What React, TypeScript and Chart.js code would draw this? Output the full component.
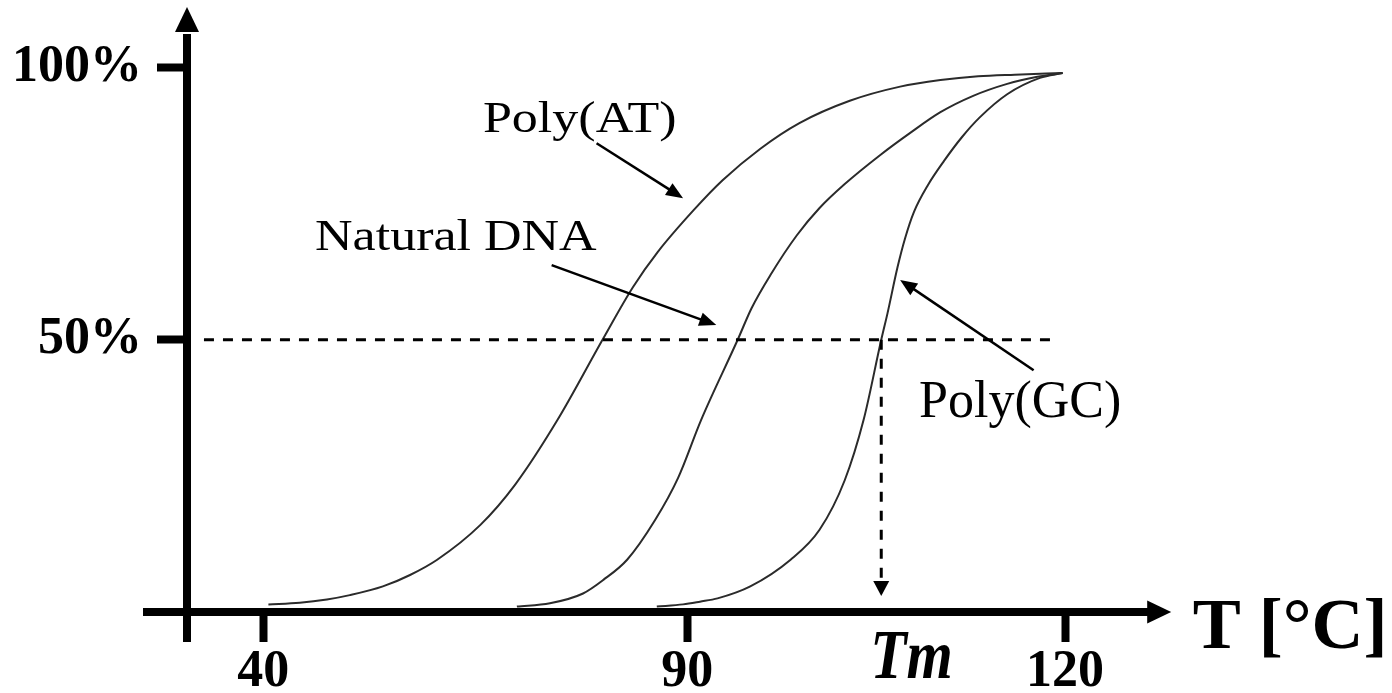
import React, { useEffect, useRef } from 'react';
import { Chart, registerables } from 'chart.js';

Chart.register(...registerables);

// Melting curves: share of denatured DNA (%) against temperature (°C)
const polyATTemp = [40.6, 44.3, 47.5, 50.2, 54.1, 57.3, 60.5, 65.6, 69.7, 74.7, 80.0, 83.6, 86.5, 90.5, 92.8, 95.8, 98.9, 102.9, 106.9, 110.1, 113.1, 116.0, 119.8];
const polyATPct = [1.4, 1.7, 2.3, 3.1, 4.7, 6.8, 9.6, 16.0, 23.4, 35.3, 50.0, 59.7, 66.1, 73.8, 79.3, 85.1, 89.8, 93.9, 96.5, 97.7, 98.4, 98.7, 99.0];

const naturalTemp = [69.9, 73.8, 77.7, 80.1, 82.9, 86.2, 88.9, 91.1, 94.0, 95.1, 96.6, 98.7, 100.5, 102.5, 105.3, 107.7, 110.1, 112.7, 115.4, 117.8, 119.8];
const naturalPct = [1.0, 1.6, 3.4, 5.9, 9.6, 16.9, 24.6, 35.3, 50.0, 55.8, 61.9, 69.2, 74.2, 78.6, 83.9, 88.0, 91.8, 94.8, 97.0, 98.3, 99.0];

const polyGCTemp = [86.4, 89.5, 91.0, 92.4, 95.0, 98.2, 100.5, 102.5, 104.0, 105.4, 105.9, 106.7, 107.3, 108.0, 109.1, 110.4, 111.8, 113.2, 115.4, 118.0, 119.8];
const polyGCPct = [1.0, 1.4, 1.9, 2.5, 4.7, 9.6, 15.1, 24.2, 35.3, 50.0, 54.9, 63.4, 68.7, 73.5, 78.4, 82.9, 87.2, 90.8, 95.1, 98.1, 99.0];

const xTickTemps = [40, 90, 120];
const yTickPcts = [50, 100];
const meltingTemp = 105.4;
const halfLevel = 50;

// The temperature axis is drawn in two linear pieces: above 90 °C a degree takes more room.
const AXIS_BREAK = 90;
const AXIS_STRETCH = 1.485;
const axisPos = (t: number) => (t <= AXIS_BREAK ? t : AXIS_BREAK + (t - AXIS_BREAK) * AXIS_STRETCH);

const SERIF = '"Liberation Serif", "Times New Roman", serif';

const toPoints = (ts: number[], ps: number[]) => ts.map((t, i) => ({ x: axisPos(t), y: ps[i] }));

// Curve names with pointer arrows, placed in (°C, %) coordinates
const curveNotes = [
  { text: 'Poly(AT)', at: [65.9, 88.2], from: [79.3, 86.1], to: [89.5, 76.0], squash: 0.84 },
  { text: 'Natural DNA', at: [46.1, 66.5], from: [74.0, 63.7], to: [92.3, 52.7], squash: 0.84 },
  { text: 'Poly(GC)', at: [108.4, 35.8], from: [117.5, 44.4], to: [106.9, 61.0], squash: 1 },
];

function arrowHead(ctx: CanvasRenderingContext2D, x1: number, y1: number, x2: number, y2: number, len: number, half: number) {
  const a = Math.atan2(y2 - y1, x2 - x1);
  const bx = x2 - len * Math.cos(a);
  const by = y2 - len * Math.sin(a);
  ctx.beginPath();
  ctx.moveTo(x2, y2);
  ctx.lineTo(bx + half * Math.sin(a), by - half * Math.cos(a));
  ctx.lineTo(bx - half * Math.sin(a), by + half * Math.cos(a));
  ctx.closePath();
  ctx.fill();
}

function arrow(ctx: CanvasRenderingContext2D, x1: number, y1: number, x2: number, y2: number, len: number, half: number, width: number, dash: number[] = []) {
  const a = Math.atan2(y2 - y1, x2 - x1);
  ctx.save();
  ctx.lineWidth = width;
  ctx.setLineDash(dash);
  ctx.beginPath();
  ctx.moveTo(x1, y1);
  ctx.lineTo(x2 - (len - 1) * Math.cos(a), y2 - (len - 1) * Math.sin(a));
  ctx.stroke();
  ctx.setLineDash([]);
  arrowHead(ctx, x1, y1, x2, y2, len, half);
  ctx.restore();
}

const decorPlugin = {
  id: 'meltDecor',
  afterDraw(chart: any) {
    const { ctx, chartArea: area, scales } = chart;
    const px = (t: number) => scales.x.getPixelForValue(axisPos(t));
    const py = (p: number) => scales.y.getPixelForValue(p);
    const ox = area.left;
    const oy = area.bottom;

    ctx.save();
    ctx.fillStyle = '#000';
    ctx.strokeStyle = '#000';

    // 50 % reference line and the drop to Tm
    ctx.lineWidth = 3;
    ctx.setLineDash([10, 9]);
    ctx.beginPath();
    ctx.moveTo(px(33), py(halfLevel));
    ctx.lineTo(px(118.8), py(halfLevel));
    ctx.stroke();
    ctx.setLineDash([]);
    arrow(ctx, px(meltingTemp), py(halfLevel), px(meltingTemp), oy - 16, 15, 8, 3, [10, 9]);

    // axes with arrowheads
    ctx.lineWidth = 8;
    ctx.beginPath();
    ctx.moveTo(ox - 44, oy);
    ctx.lineTo(area.right - 12, oy);
    ctx.stroke();
    arrowHead(ctx, ox - 44, oy, area.right + 9, oy, 24, 11.5);
    ctx.beginPath();
    ctx.moveTo(ox, oy + 30);
    ctx.lineTo(ox, area.top + 10);
    ctx.stroke();
    arrowHead(ctx, ox, oy, ox, area.top - 17, 25, 12);

    // curve names
    ctx.textAlign = 'left';
    ctx.textBaseline = 'alphabetic';
    for (const note of curveNotes) {
      ctx.save();
      ctx.translate(px(note.at[0]), py(note.at[1]));
      ctx.scale(1, note.squash);
      ctx.font = `52px ${SERIF}`;
      ctx.fillText(note.text, 0, 0);
      ctx.restore();
      arrow(ctx, px(note.from[0]), py(note.from[1]), px(note.to[0]), py(note.to[1]), 17, 7, 2.5);
    }

    // Tm marker label
    ctx.save();
    ctx.translate(px(meltingTemp) - 11, oy + 66);
    ctx.scale(0.85, 1);
    ctx.font = `italic bold 70px ${SERIF}`;
    ctx.fillText('Tm', 0, 0);
    ctx.restore();

    // axis title
    ctx.font = `bold 72px ${SERIF}`;
    ctx.fillText('T [°C]', area.right + 30.5, oy + 36);
    ctx.restore();
  },
};

const tickFont = { family: SERIF, size: 52, weight: 'bold' as const, lineHeight: 1 };
const tickGrid = { display: true, drawOnChartArea: false, drawTicks: true, tickLength: 30, tickWidth: 8, tickColor: '#000' };

// tick labels sit well inside the plot, so they need no extra room at the ends
const noEdgePadding = (s: any) => {
  s.paddingTop = 0;
  s.paddingBottom = 0;
  s.paddingLeft = 0;
  s.paddingRight = 0;
};

export default function App() {
  const ref = useRef<HTMLCanvasElement>(null);

  useEffect(() => {
    const lineStyle = {
      borderColor: '#2b2b2b',
      borderWidth: 2,
      pointRadius: 0,
      fill: false,
      cubicInterpolationMode: 'monotone' as const,
    };
    const chart = new Chart(ref.current!, {
      type: 'line',
      data: {
        datasets: [
          { label: 'Poly(AT)', data: toPoints(polyATTemp, polyATPct), ...lineStyle },
          { label: 'Natural DNA', data: toPoints(naturalTemp, naturalPct), ...lineStyle },
          { label: 'Poly(GC)', data: toPoints(polyGCTemp, polyGCPct), ...lineStyle },
        ],
      },
      options: {
        animation: false,
        responsive: false,
        devicePixelRatio: 1,
        events: [],
        layout: { padding: { left: 0, top: 24, right: 229.8, bottom: 0 } },
        plugins: { legend: { display: false }, tooltip: { enabled: false } },
        scales: {
          x: {
            type: 'linear',
            min: 31,
            max: 146,
            border: { display: false },
            grid: tickGrid,
            ticks: {
              autoSkip: false,
              maxRotation: 0,
              minRotation: 0,
              padding: 4.5,
              color: '#000',
              font: tickFont,
              callback: (_v: any, i: number) => String(xTickTemps[i]),
            },
            afterBuildTicks: (s: any) => {
              s.ticks = xTickTemps.map((t) => ({ value: axisPos(t) }));
            },
            afterFit: (s: any) => {
              s.height = 81;
              noEdgePadding(s);
            },
          },
          y: {
            type: 'linear',
            min: 0,
            max: 108,
            border: { display: false },
            grid: tickGrid,
            ticks: {
              autoSkip: false,
              padding: 15,
              color: '#000',
              font: tickFont,
              callback: (_v: any, i: number) => `${yTickPcts[i]}%`,
            },
            afterBuildTicks: (s: any) => {
              s.ticks = yTickPcts.map((v) => ({ value: v }));
            },
            afterFit: (s: any) => {
              s.width = 187;
              noEdgePadding(s);
            },
          },
        },
      },
      plugins: [decorPlugin],
    });
    return () => chart.destroy();
  }, []);

  return (
    <div style={{ position: 'fixed', left: 0, top: 0, width: 1392, height: 693, background: '#fff' }}>
      <canvas ref={ref} width={1392} height={693} style={{ display: 'block', width: 1392, height: 693 }} />
    </div>
  );
}
